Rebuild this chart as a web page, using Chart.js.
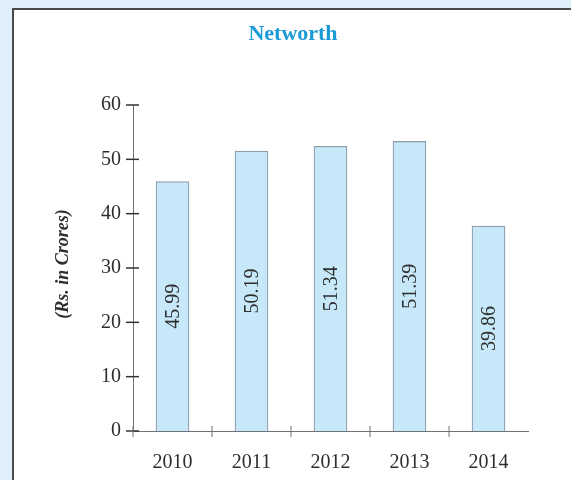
<!DOCTYPE html>
<html>
<head>
<meta charset="utf-8">
<script src="https://cdn.jsdelivr.net/npm/chart.js@4.4.0/dist/chart.umd.min.js"></script>
<style>
  html, body { margin: 0; padding: 0; background: #dff0fb; }
  #wrap { position: relative; width: 571px; height: 480px; }
</style>
</head>
<body>
<div id="wrap"><canvas id="chart" width="571" height="480"></canvas></div>
<script>
// Data
const years = ["2010", "2011", "2012", "2013", "2014"];
const barHeights = [45.9, 51.5, 52.4, 53.3, 37.7];
const barLabels = ["45.99", "50.19", "51.34", "51.39", "39.86"];
const yTicks = [0, 10, 20, 30, 40, 50, 60];

const SERIF = "'Liberation Serif', 'DejaVu Serif', serif";
const AXIS_COLOR = "#6f7378";
const TEXT_COLOR = "#2e2e2e";

// Light blue frame with a white panel behind the chart
const panelPlugin = {
  id: "panel",
  beforeDraw(chart) {
    const ctx = chart.ctx;
    ctx.save();
    ctx.fillStyle = "#dff0fb";
    ctx.fillRect(0, 0, chart.width, chart.height);
    ctx.fillStyle = "#ffffff";
    ctx.fillRect(12, 8, chart.width - 12, chart.height - 8);
    ctx.strokeStyle = "#4a4a4a";
    ctx.lineWidth = 2;
    ctx.beginPath();
    ctx.moveTo(13, chart.height);
    ctx.lineTo(13, 9);
    ctx.lineTo(chart.width, 9);
    ctx.stroke();
    ctx.restore();
  },
};

// Title, axis title, crossing tick marks and rotated value labels
const decorPlugin = {
  id: "decor",
  afterDraw(chart) {
    const ctx = chart.ctx;
    const x = chart.scales.x;
    const y = chart.scales.y;
    ctx.save();

    // title
    ctx.fillStyle = "#1a9ad6";
    ctx.font = "bold 22px " + SERIF;
    ctx.textAlign = "center";
    ctx.textBaseline = "alphabetic";
    ctx.fillText("Networth", 293, 40);

    // y axis title
    ctx.save();
    ctx.translate(63, 264);
    ctx.rotate(-Math.PI / 2);
    ctx.fillStyle = TEXT_COLOR;
    ctx.font = "italic bold 18px " + SERIF;
    ctx.textBaseline = "middle";
    ctx.fillText("(Rs. in Crores)", 0, 0);
    ctx.restore();

    // tick marks crossing the axes
    ctx.strokeStyle = "#333";
    ctx.lineWidth = 1.5;
    const yAxisX = x.left;
    yTicks.forEach((v) => {
      const py = y.getPixelForValue(v);
      ctx.beginPath();
      ctx.moveTo(yAxisX - 7, py);
      ctx.lineTo(yAxisX + 6, py);
      ctx.stroke();
    });
    const axisY = y.getPixelForValue(0);
    ctx.lineWidth = 1;
    ctx.strokeStyle = AXIS_COLOR;
    ctx.beginPath();
    ctx.moveTo(yAxisX, axisY - 5);
    ctx.lineTo(yAxisX, axisY + 6);
    ctx.stroke();
    for (let i = 1; i < years.length; i++) {
      const px = (x.getPixelForTick(i - 1) + x.getPixelForTick(i)) / 2;
      ctx.beginPath();
      ctx.moveTo(px, axisY - 5);
      ctx.lineTo(px, axisY + 6);
      ctx.stroke();
    }

    // value labels inside bars
    const meta = chart.getDatasetMeta(0);
    ctx.fillStyle = TEXT_COLOR;
    ctx.font = "20px " + SERIF;
    ctx.textAlign = "center";
    ctx.textBaseline = "middle";
    meta.data.forEach((bar, i) => {
      const cy = (bar.y + bar.base) / 2;
      ctx.save();
      ctx.translate(bar.x, cy);
      ctx.rotate(-Math.PI / 2);
      ctx.fillText(barLabels[i], 0, 1);
      ctx.restore();
    });

    ctx.restore();
  },
};

const ctx = document.getElementById("chart").getContext("2d");
new Chart(ctx, {
  type: "bar",
  data: {
    labels: years,
    datasets: [
      {
        label: "Networth",
        data: barHeights,
        backgroundColor: "#c6e8f9",
        borderColor: "#8e9ca8",
        borderWidth: 1.2,
        borderSkipped: "bottom",
        barThickness: 33,
      },
    ],
  },
  options: {
    responsive: false,
    animation: false,
    devicePixelRatio: 1,
    layout: {
      padding: { top: 105, right: 43, bottom: 0, left: 0 },
    },
    plugins: {
      legend: { display: false },
      title: { display: false },
      tooltip: { enabled: false },
    },
    scales: {
      x: {
        grid: { display: false, drawTicks: false },
        border: { display: true, color: AXIS_COLOR, width: 1 },
        ticks: {
          color: TEXT_COLOR,
          font: { family: SERIF, size: 20 },
          padding: 20,
        },
        afterFit(scale) {
          scale.height = 49;
        },
      },
      y: {
        min: 0,
        max: 60,
        grid: { display: false, drawTicks: false },
        border: { display: true, color: AXIS_COLOR, width: 1 },
        ticks: {
          stepSize: 10,
          color: TEXT_COLOR,
          font: { family: SERIF, size: 20 },
          padding: 12,
        },
        afterFit(scale) {
          scale.width = 133;
        },
      },
    },
  },
  plugins: [panelPlugin, decorPlugin],
});
</script>
</body>
</html>
